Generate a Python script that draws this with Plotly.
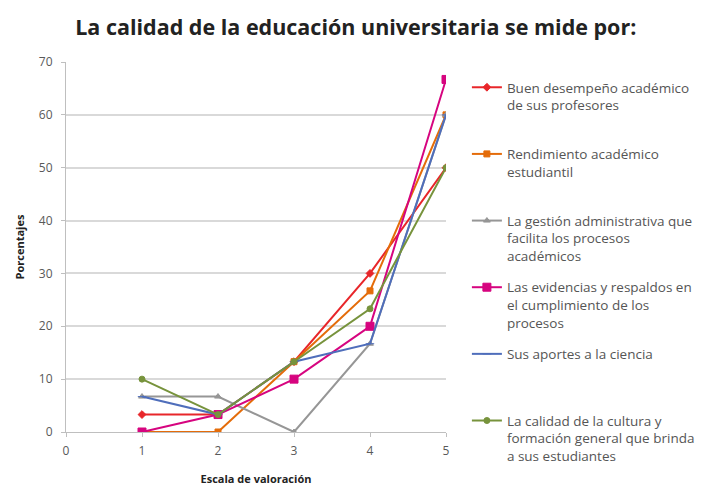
import plotly.graph_objects as go

# escala de valoración 1..5, porcentajes
escala = [1, 2, 3, 4, 5]

buen_desempeno = [3.3, 3.3, 13.3, 30.0, 50.0]
rendimiento = [0.0, 0.0, 13.3, 26.7, 60.0]
gestion = [6.7, 6.7, 0.0, 16.7, 60.0]
evidencias = [0.0, 3.3, 10.0, 20.0, 66.7]
aportes = [6.7, 3.3, 13.3, 16.7, 60.0]
cultura = [10.0, 3.3, 13.3, 23.3, 50.0]

nombres = [
    "Buen desempeño académico<br>de sus profesores<br> ",
    "Rendimiento académico<br>estudiantil<br> ",
    "La gestión administrativa que<br>facilita los procesos<br>académicos",
    "Las evidencias y respaldos en<br>el cumplimiento de los<br>procesos",
    "Sus aportes a la ciencia<br> <br> ",
    "La calidad de la cultura y<br>formación general que brinda<br>a sus estudiantes",
]

series = [buen_desempeno, rendimiento, gestion, evidencias, aportes, cultura]
colores = ["#e8262a", "#e46c0a", "#969696", "#d6047f", "#4f6ebb", "#77933c"]
simbolos = ["diamond", "square", "triangle-up", "square", "line-ew", "circle"]
tamanos = [6, 6, 6, 8, 6, 6]

fig = go.Figure()
for i, (vals, nombre) in enumerate(zip(series, nombres)):
    fig.add_trace(go.Scatter(
        x=escala, y=vals, name=nombre, mode="lines+markers",
        line=dict(color=colores[i], width=2),
        marker=dict(symbol=simbolos[i], size=tamanos[i], color=colores[i],
                    line=dict(color=colores[i], width=1)),
        legendgroup=str(i),
    ))

fig.update_layout(
    width=704, height=486,
    paper_bgcolor="white", plot_bgcolor="white",
    margin=dict(l=58, r=266, t=54, b=62, autoexpand=False),
    font=dict(family="Open Sans", color="#404040"),
    title=dict(text="<b>La calidad de la educación universitaria se mide por:</b>",
               x=0.494, xanchor="center", y=0.959, yanchor="middle",
               font=dict(size=21.5, color="#222222")),
    showlegend=True,
    legend=dict(x=1.055, xanchor="left", y=0.973, yanchor="top",
                valign="top", tracegroupgap=11, maxheight=480,
                font=dict(size=13.5, color="#555555"),
                itemwidth=30),
    xaxis=dict(range=[0, 5], dtick=1, showgrid=False, zeroline=False,
               automargin=False,
               showline=True, linecolor="#bfbfbf", ticks="outside",
               ticklen=4, tickcolor="#bfbfbf", ticklabelstandoff=4,
               tickfont=dict(size=12, color="#595959"),
               title=dict(text="<b>Escala de valoración</b>", standoff=16,
                          font=dict(size=11, color="#222222"))),
    yaxis=dict(range=[0, 70], dtick=10, showgrid=True, gridcolor="#d9d9d9",
               gridwidth=1.5, zeroline=False, showline=True,
               automargin=False,
               linecolor="#bfbfbf", ticks="outside", ticklen=4,
               tickcolor="#bfbfbf", ticklabelstandoff=6,
               tickfont=dict(size=12, color="#595959"),
               title=dict(text="<b>Porcentajes</b>", standoff=12,
                          font=dict(size=11, color="#222222"))),
)

fig.write_html("out.html")
